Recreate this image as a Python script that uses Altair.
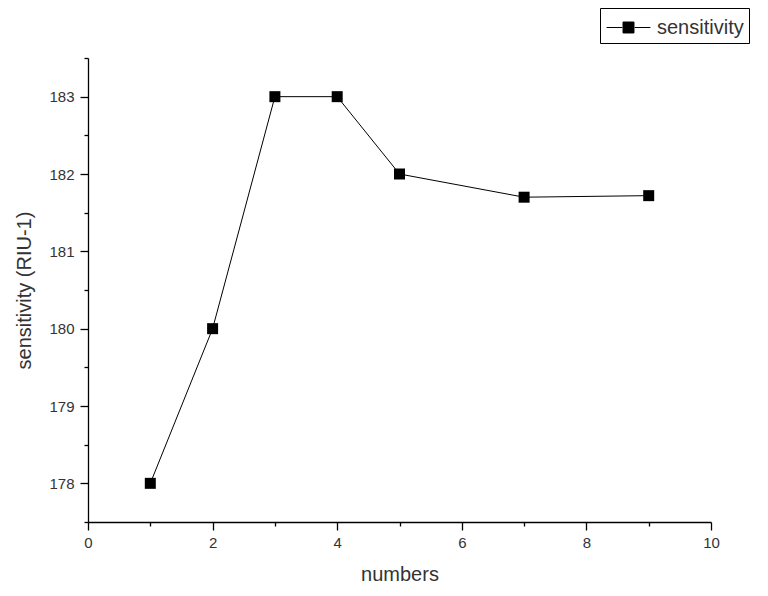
import altair as alt
import pandas as pd

numbers = [1, 2, 3, 4, 5, 7, 9]
sensitivity = [178.0, 180.0, 183.0, 183.0, 182.0, 181.7, 181.72]
series = ["sensitivity"] * len(numbers)

df = pd.DataFrame({"numbers": numbers, "sensitivity": sensitivity, "series": series})

x_ticks = [i for i in range(0, 11)]
y_ticks = [177.5 + 0.5 * i for i in range(0, 13)]

FONT = "Liberation Sans"

common_axis = dict(
    grid=False,
    domainColor="#000",
    tickColor="#000",
    labelColor="#333",
    titleColor="#333",
    labelFont=FONT,
    titleFont=FONT,
    labelFontSize=15,
    titleFontSize=20,
    titleFontWeight="normal",
    domainWidth=1.3,
    tickWidth=1.3,
    labelFlush=False,
)

x_enc = alt.X(
    "numbers:Q",
    scale=alt.Scale(domain=[0, 10], nice=False, zero=False),
    axis=alt.Axis(
        title="numbers",
        values=x_ticks,
        labelExpr="datum.value % 2 == 0 ? format(datum.value, 'd') : ''",
        tickSize={"condition": {"test": "datum.value % 2 == 0", "value": 8}, "value": 4},
        labelPadding=5,
        titlePadding=14,
        **common_axis,
    ),
)
y_enc = alt.Y(
    "sensitivity:Q",
    scale=alt.Scale(domain=[177.5, 183.5], nice=False, zero=False),
    axis=alt.Axis(
        title="sensitivity (RIU-1)",
        values=y_ticks,
        labelExpr="datum.value % 1 == 0 ? format(datum.value, 'd') : ''",
        tickSize={"condition": {"test": "datum.value % 1 == 0", "value": 8}, "value": 4},
        labelPadding=6,
        titlePadding=14,
        **common_axis,
    ),
)

line = alt.Chart(df).mark_line(color="#000", strokeWidth=1).encode(x=x_enc, y=y_enc)

points = alt.Chart(df).mark_point(
    shape="square", filled=True, size=121, opacity=1
).encode(
    x=x_enc,
    y=y_enc,
    color=alt.Color(
        "series:N",
        scale=alt.Scale(range=["#000"]),
        legend=alt.Legend(
            title=None,
            orient="none",
            legendX=512,
            legendY=-50,
            symbolType="M-1.6,0H-0.45M0.45,0H1.6M-0.4,-0.4H0.4V0.4H-0.4Z",
            symbolSize=750,
            symbolStrokeWidth=1,
            symbolStrokeColor="#000",
            symbolOffset=9,
            labelOffset=14,
            labelFont=FONT,
            labelFontSize=20,
            labelColor="#333",
            strokeColor="#000",
            padding=5,
            fillColor="#fff",
        ),
    ),
)

chart = alt.layer(line, points).properties(
    width=623,
    height=464,
    autosize=alt.AutoSizeParams(type="none"),
    padding={"left": 80, "top": 50, "right": 49, "bottom": 66},
).configure(background="#fff").configure_view(stroke=None)

chart.save("out.html", embed_options={"renderer": "svg", "actions": False})
